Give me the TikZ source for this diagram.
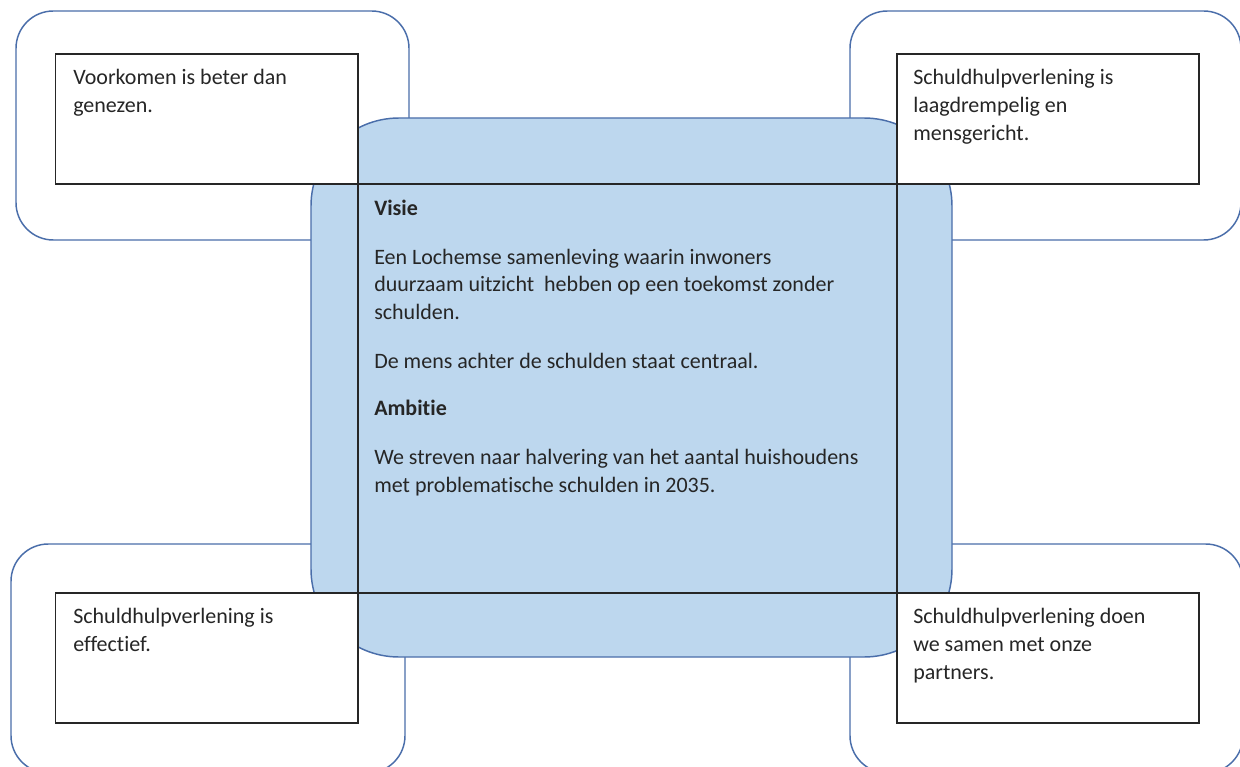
\documentclass[tikz,border=0pt]{standalone}
\usepackage{fontspec}
\setmainfont{Carlito}[Ligatures=NoCommon,RawFeature={-liga}]
\definecolor{shapeblue}{HTML}{4A6EAA}
\definecolor{fillblue}{HTML}{BDD7EE}
\definecolor{txtgray}{HTML}{262626}
\begin{document}
\begin{tikzpicture}[x=0.75pt,y=-0.75pt,
  outerbox/.style={draw=shapeblue, line width=1.1pt, fill=white, rounded corners=28pt},
  centerbox/.style={draw=shapeblue, line width=1.1pt, fill=fillblue, rounded corners=66pt},
  textbox/.style={draw=black!85, line width=1.1pt, fill=white},
  framebox/.style={draw=black!85, line width=1.1pt},
  txt/.style={anchor=base west, inner sep=0pt, text=txtgray, font=\fontsize{16.5}{20}\selectfont},
  btxt/.style={txt, font=\fontsize{16.5}{20}\selectfont\bfseries}]
\path[use as bounding box] (0,0) rectangle (1240,767);
\clip (0,0) rectangle (1240,767);
\fill[white] (0,0) rectangle (1240,767);
% outer rounded frames
\draw[outerbox] (16,11) rectangle (409,240);
\draw[outerbox] (850,11) rectangle (1241,240);
\draw[outerbox] (11,544) rectangle (405,773);
\draw[outerbox] (850,544) rectangle (1243,773);
% central blue shape
\draw[centerbox] (311,118) rectangle (952,657);
% corner text boxes
\draw[textbox] (55.5,54) rectangle (358,184);
\draw[textbox] (897,54) rectangle (1199,184);
\draw[textbox] (55.5,593) rectangle (358,723);
\draw[textbox] (897,593) rectangle (1199,723);
% central frame
\draw[framebox] (358,184) rectangle (897,593);
% texts top-left
\node[txt] (tl1) at (73,85) {Voorkomen is beter dan};
\node[txt] (tl2) at (73,113) {genezen.};
% top-right
\node[txt] (tr1) at (913,85) {Schuldhulpverlening is};
\node[txt] (tr2) at (913,113) {laagdrempelig en};
\node[txt] (tr3) at (913,141) {mensgericht.};
% bottom-left
\node[txt] (bl1) at (73,623) {Schuldhulpverlening is};
\node[txt] (bl2) at (73,651) {effectief.};
% bottom-right
\node[txt] (br1) at (913,623) {Schuldhulpverlening doen};
\node[txt] (br2) at (913,651) {we samen met onze};
\node[txt] (br3) at (913,679) {partners.};
% center
\node[btxt] (c1) at (374,215) {Visie};
\node[txt] (c2) at (374,264) {Een Lochemse samenleving waarin inwoners};
\node[txt] (c3) at (374,291) {duurzaam uitzicht\ \ hebben op een toekomst zonder};
\node[txt] (c4) at (374,319) {schulden.};
\node[txt] (c5) at (374,368) {De mens achter de schulden staat centraal.};
\node[btxt] (c6) at (374,415) {Ambitie};
\node[txt] (c7) at (374,464) {We streven naar halvering van het aantal huishoudens};
\node[txt] (c8) at (374,492) {met problematische schulden in 2035.};
\end{tikzpicture}
\end{document}
